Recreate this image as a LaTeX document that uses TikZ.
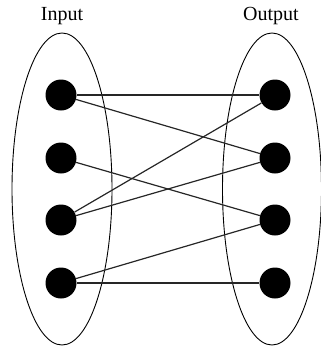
\documentclass[tikz,border=0pt]{standalone}
\usepackage{fontspec}
\setmainfont{Liberation Serif}
\begin{document}
\begin{tikzpicture}[x=1pt,y=-1pt,
  setellipse/.style={draw=black,line width=0.9pt},
  dot/.style={circle,fill=black,inner sep=0pt,minimum size=31pt},
  edge/.style={draw=black!85,line width=1.2pt},
  caption/.style={anchor=base,inner sep=0pt,font=\fontsize{20}{24}\selectfont}]
\useasboundingbox (0,0) rectangle (321,349);
\clip (0,0) rectangle (321,349);

% the two sets
\draw[setellipse] (62,189) ellipse [x radius=50, y radius=156];
\draw[setellipse] (272,189) ellipse [x radius=49.5, y radius=156];

% headings
\node[caption] (in) at (62,20) {Input};
\node[caption] (out) at (271,20) {Output};

% elements
\foreach \i/\y in {1/95,2/158,3/220,4/283}{
  \node[dot] (l\i) at (61,\y) {};
  \node[dot] (r\i) at (275,\y) {};
}

% mapping, from the rim of one dot to the rim of the other
\foreach \a/\b in {1/1,1/2,2/3,3/1,3/2,4/3,4/4}{
  \draw[edge] (l\a) -- (r\b);
}
\end{tikzpicture}
\end{document}
